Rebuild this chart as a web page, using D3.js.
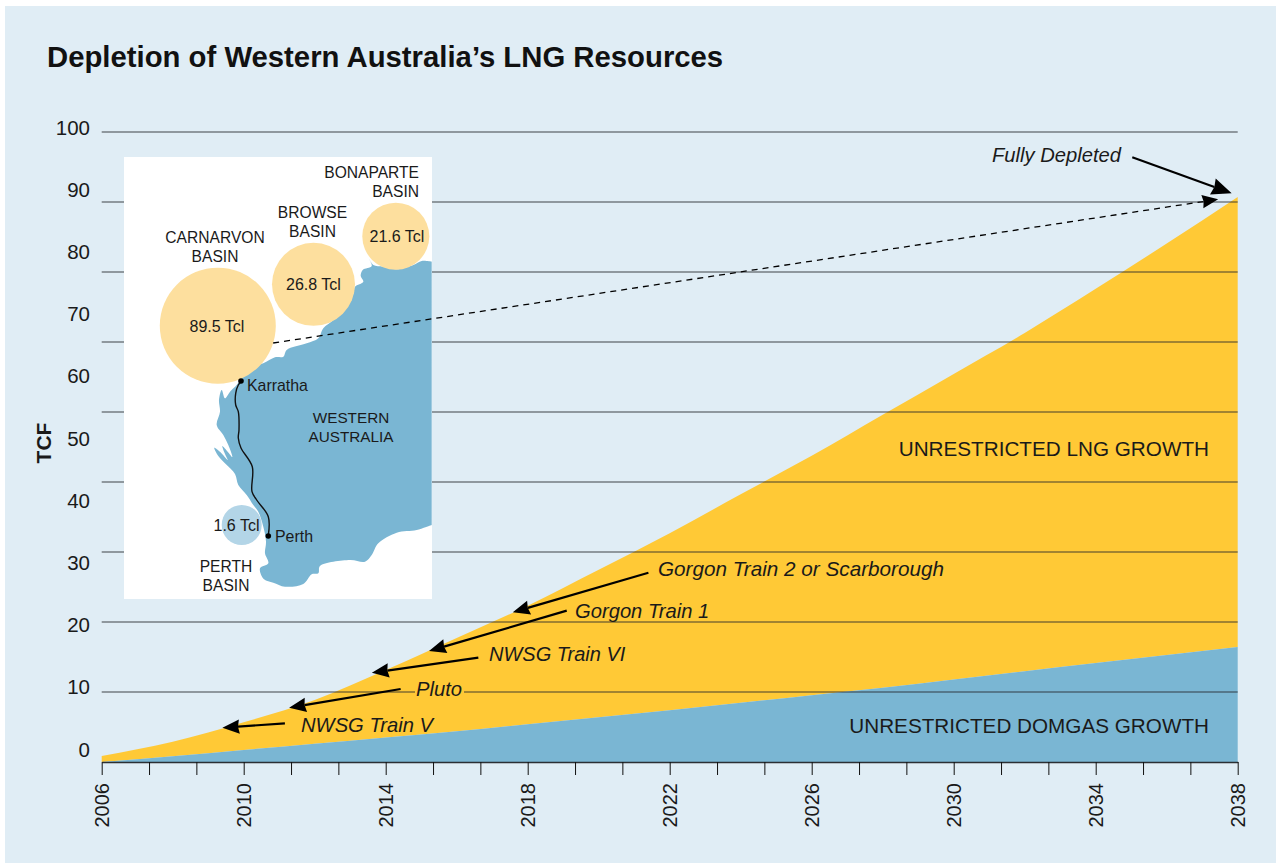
<!DOCTYPE html>
<html>
<head>
<meta charset="utf-8">
<title>Depletion of Western Australia's LNG Resources</title>
<script src="https://cdn.jsdelivr.net/npm/d3@7"></script>
<style>
  html, body { margin: 0; background: #fff; }
  svg { display: block; font-family: 'Liberation Sans', Arial, sans-serif; }
  text { fill: #1a1a1a; }
</style>
</head>
<body>
<svg id="chart"></svg>
<script>
// Values (TCF, cumulative)
var years = [2006, 2008, 2010, 2012, 2014, 2016, 2018, 2020, 2022, 2024, 2026, 2028, 2030, 2032, 2034, 2036, 2038];
var domgas = [0, 0.9, 1.9, 2.9, 3.9, 4.9, 6, 7.1, 8.2, 9.4, 10.6, 11.8, 13.1, 14.4, 15.7, 17, 18.25];
var total = [0.95, 3.2, 6.3, 9.85, 14.6, 19.7, 24.8, 30.5, 36.3, 42.5, 48.6, 55.1, 61.6, 68.1, 75.1, 82.3, 89.7];

var yTickLabels = [0, 10, 20, 30, 40, 50, 60, 70, 80, 90, 100];
var gridRows = ['r0', 'r1', 'r2', 'r3', 'r4', 'r5', 'r6', 'r7', 'r8', 'r9'];
var xTickLabels = [2006, 2010, 2014, 2018, 2022, 2026, 2030, 2034, 2038];

var basinNames = [['CARNARVON', 'BASIN'], ['BROWSE', 'BASIN'], ['BONAPARTE', 'BASIN'], ['PERTH', 'BASIN']];
var basinResources = ['89.5 Tcl', '26.8 Tcl', '21.6 Tcl', '1.6 Tcl'];

var width = 1281;
var height = 863;

var svg = d3.select('#chart')
  .attr('width', width)
  .attr('height', height);

var x = d3.scaleLinear().domain([2006, 2038]).range([101.7, 1237.7]);
// area scale
var y = d3.scaleLinear().domain([0, 100]).range([762, 132]);
// the printed labels do not sit on the rules in the original, hence separate scales
var yLabel = d3.scaleLinear().domain([0, 100]).range([749.5, 127.5]);
var yGrid = d3.scalePoint().domain(gridRows).range([762, 132]);

svg.append('rect')
  .attr('x', 5).attr('y', 6)
  .attr('width', 1271).attr('height', 857)
  .attr('fill', '#e0edf5');

svg.append('text')
  .attr('x', 47).attr('y', 67)
  .attr('font-size', 29.3).attr('font-weight', 'bold')
  .style('fill', '#111')
  .text('Depletion of Western Australia\u2019s LNG Resources');

/**
 * Areas
 */
var rows = years.map(function (d, i) {
  return { year: d, domgas: domgas[i], total: total[i] };
});

var lngArea = d3.area()
  .x(function (d) { return x(d.year); })
  .y0(function (d) { return y(d.domgas); })
  .y1(function (d) { return y(d.total); })
  .curve(d3.curveMonotoneX);

var domgasArea = d3.area()
  .x(function (d) { return x(d.year); })
  .y0(y(0))
  .y1(function (d) { return y(d.domgas); })
  .curve(d3.curveMonotoneX);

svg.append('path').attr('d', lngArea(rows)).attr('fill', '#ffc936');
svg.append('path').attr('d', domgasArea(rows)).attr('fill', '#7ab6d3');

// Rules sit over the areas
svg.append('g')
  .selectAll('line')
  .data(gridRows.slice(1))
  .enter().append('line')
    .attr('x1', x(2006))
    .attr('x2', x(2038))
    .attr('y1', function (d) { return yGrid(d); })
    .attr('y2', function (d) { return yGrid(d); })
    .attr('stroke', '#23272b')
    .attr('stroke-opacity', 0.85)
    .attr('stroke-width', 1.2);

/**
 * Axes
 */
var xTicks = d3.range(0, 25).map(function (i) { return 2006 + i * 4 / 3; });

var xAxis = d3.axisBottom(x)
  .tickValues(xTicks)
  .tickSize(13)
  .tickSizeOuter(0)
  .tickFormat(function (d) {
    var yr = Math.round(d);
    return (Math.abs(d - yr) < 0.01 && xTickLabels.indexOf(yr) >= 0) ? yr : '';
  });

var xG = svg.append('g')
  .attr('transform', 'translate(0,' + y(0) + ')')
  .call(xAxis);

xG.select('.domain').attr('stroke', '#2b2f33').attr('stroke-width', 1.5);
xG.selectAll('.tick line').attr('stroke', '#111').attr('stroke-width', 1);
xG.selectAll('.tick text')
  .attr('font-size', 20)
  .attr('font-family', null)
  .attr('transform', 'rotate(-90)')
  .attr('text-anchor', 'end')
  .attr('dy', '0.35em')
  .attr('x', -21)
  .attr('y', 0)
  .style('fill', '#1a1a1a');

var yG = svg.append('g')
  .attr('transform', 'translate(90,0)')
  .call(d3.axisLeft(yLabel).tickValues(yTickLabels).tickSize(0).tickPadding(0));

yG.select('.domain').remove();
yG.selectAll('text')
  .attr('font-size', 20.5)
  .attr('font-family', null)
  .style('fill', '#1a1a1a');

svg.append('text')
  .attr('transform', 'translate(51,443) rotate(-90)')
  .attr('text-anchor', 'middle')
  .attr('font-size', 21).attr('font-weight', 'bold')
  .text('TCF');

/**
 * Inset map
 */
svg.append('rect')
  .attr('x', 124).attr('y', 157)
  .attr('width', 308).attr('height', 442)
  .attr('fill', '#fff');

// page pixels
var coastOutline = [
  [431.7, 261.7], [421.7, 261], [413.3, 265], [396.7, 269.3], [383.3, 266.7], [373.3, 265], [369.3, 259.3],
  [371.7, 266], [362.7, 270], [360.7, 276], [363.3, 281.7], [355, 286.7], [353.3, 294], [345, 306.7],
  [333.3, 320], [323.3, 328.3], [318.3, 338.3], [306.7, 343.3], [286.7, 350], [283.3, 356.7], [275, 357.3],
  [263.3, 363.3], [251.7, 366.7], [241.7, 378.3], [236.7, 385], [230, 391.7], [225, 398.3], [221.7, 390],
  [219, 400], [220, 411.7], [216.7, 425], [223.3, 435], [228.3, 445], [232.3, 457], [227.7, 451.7],
  [222.3, 446], [225, 454], [227.7, 460], [220, 451.7], [214.3, 447.7], [218.3, 456], [225.7, 464],
  [235, 474], [238.3, 485], [246.7, 495], [253.3, 505], [258.3, 511.7], [263.3, 526.7], [266, 541.7],
  [265, 553.3], [268.3, 563.3], [260, 568.3], [264, 579.3], [273.3, 582.7], [285, 586.7], [303.3, 584],
  [311.7, 574.3], [318.3, 573.3], [320, 566], [350, 560], [365, 561.7], [371.7, 555], [378.3, 543.3],
  [396.7, 532.7], [416.7, 530], [431.7, 525]
];

var pipeline = [
  [241, 381.7], [238.3, 385], [235.7, 393.3], [235.7, 405], [238.3, 411.7], [239, 430], [238.3, 438], [241, 448],
  [252.3, 466.7], [252, 491.7], [256.7, 500], [268.3, 516.7], [268.3, 535.7]
];

svg.append('path')
  .attr('d', d3.line().curve(d3.curveCatmullRom.alpha(0.5))(coastOutline) + 'Z')
  .attr('fill', '#7ab6d3');

svg.append('path')
  .attr('d', d3.line().curve(d3.curveCatmullRom.alpha(0.5))(pipeline))
  .attr('fill', 'none')
  .attr('stroke', '#111')
  .attr('stroke-width', 1.4);

var basinCircles = [
  { cx: 217.8, cy: 325.7, r: 58, fill: '#fddf9e', tx: 217, ty: 332 },
  { cx: 313.5, cy: 284.3, r: 41.5, fill: '#fddf9e', tx: 313.5, ty: 289.5 },
  { cx: 395.8, cy: 236.2, r: 33.5, fill: '#fddf9e', tx: 397, ty: 241.5 },
  { cx: 241.7, cy: 525, r: 20, fill: '#b3d5e7', tx: 236.5, ty: 530.5 }
];
var basinNamePos = [
  { x: 215, y: 243, anchor: 'middle' },
  { x: 312.5, y: 218, anchor: 'middle' },
  { x: 419, y: 178, anchor: 'end' },
  { x: 226, y: 572, anchor: 'middle' }
];

basinCircles.forEach(function (c, i) {
  svg.append('circle')
    .attr('cx', c.cx).attr('cy', c.cy).attr('r', c.r)
    .attr('fill', c.fill);
  svg.append('text')
    .attr('x', c.tx).attr('y', c.ty)
    .attr('text-anchor', 'middle')
    .attr('font-size', 16)
    .text(basinResources[i]);
  basinNames[i].forEach(function (line, j) {
    svg.append('text')
      .attr('x', basinNamePos[i].x)
      .attr('y', basinNamePos[i].y + j * 19)
      .attr('text-anchor', basinNamePos[i].anchor)
      .attr('font-size', 15.6)
      .text(line);
  });
});

[[241, 381], [268.3, 536]].forEach(function (p) {
  svg.append('circle').attr('cx', p[0]).attr('cy', p[1]).attr('r', 2.8).attr('fill', '#000');
});

function mapLabel(txt, px, py, anchor, size) {
  svg.append('text')
    .attr('x', px).attr('y', py)
    .attr('text-anchor', anchor || 'start')
    .attr('font-size', size || 15.9)
    .text(txt);
}
mapLabel('Karratha', 247, 391);
mapLabel('Perth', 275, 542);
mapLabel('WESTERN', 351, 423, 'middle', 15.3);
mapLabel('AUSTRALIA', 351, 442, 'middle', 15.3);

/**
 * Annotations
 */
// Arrow from tail to tip, both in [year, TCF]
function arrow(tail, tip, opts) {
  opts = opts || {};
  var x0 = x(tail[0]), y0 = y(tail[1]), x1 = x(tip[0]), y1 = y(tip[1]);
  var len = opts.head || 17;
  var half = len * 0.42;
  var a = Math.atan2(y1 - y0, x1 - x0);
  var cos = Math.cos(a), sin = Math.sin(a);
  function pt(back, side) {
    return [x1 - back * cos - side * sin, y1 - back * sin + side * cos];
  }
  var neck = pt(len * 0.92, 0);
  svg.append('line')
    .attr('x1', x0).attr('y1', y0)
    .attr('x2', neck[0]).attr('y2', neck[1])
    .attr('stroke', '#000')
    .attr('stroke-width', opts.width || 2.2)
    .attr('stroke-dasharray', opts.dash || null);
  svg.append('path')
    .attr('d', d3.line()([[x1, y1], pt(len, half), neck, pt(len, -half)]) + 'Z')
    .attr('fill', '#000');
}

// Pluto sits in a gap of the 10 rule
svg.append('rect')
  .attr('x', 415).attr('y', 684)
  .attr('width', 49).attr('height', 16)
  .attr('fill', '#ffc936');

arrow([2035.03, 95.98], [2037.83, 90.27], { head: 20 });
arrow([2010.83, 66.51], [2037.45, 89.32], { head: 16, width: 1.3, dash: '6,5' });
arrow([2011.16, 6.14], [2009.40, 5.44]);
arrow([2014.42, 11.59], [2011.28, 8.62]);
arrow([2016.61, 16.56], [2013.61, 14.17]);
arrow([2019.10, 24.02], [2015.22, 17.62]);
arrow([2021.40, 30.05], [2017.58, 23.76]);

function note(txt, px, py, size) {
  svg.append('text')
    .attr('x', px).attr('y', py)
    .attr('font-size', size || 20.2)
    .attr('font-style', 'italic')
    .text(txt);
}
note('Fully Depleted', 992, 162);
note('Gorgon Train 2 or Scarborough', 658, 576, 20.7);
note('Gorgon Train 1', 575, 618);
note('NWSG Train VI', 489, 661, 20);
note('Pluto', 416, 696);
note('NWSG Train V', 301, 732);

function areaLabel(txt, py) {
  svg.append('text')
    .attr('x', 1209).attr('y', py)
    .attr('text-anchor', 'end')
    .attr('font-size', 20.7)
    .text(txt);
}
areaLabel('UNRESTRICTED LNG GROWTH', 456);
areaLabel('UNRESTRICTED DOMGAS GROWTH', 733);
</script>
</body>
</html>
